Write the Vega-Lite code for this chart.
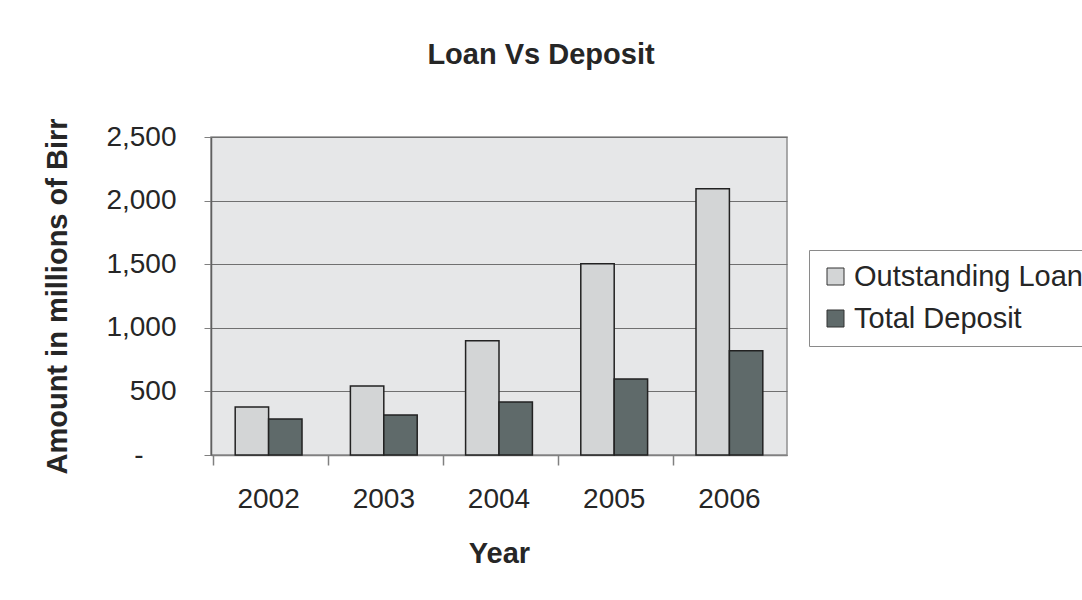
{
  "$schema": "https://vega.github.io/schema/vega-lite/v6.json",
  "width": 576,
  "height": 318,
  "autosize": {"type": "none"},
  "padding": {"left": 211, "top": 137, "right": 295, "bottom": 145},
  "background": "white",
  "title": {
    "text": "Loan Vs Deposit",
    "font": "Liberation Sans",
    "fontSize": 29,
    "fontWeight": "bold",
    "color": "#262626",
    "anchor": "middle",
    "dx": 42,
    "offset": 48
  },
  "data": {
    "values": [
      {"year": "2002", "series": "Outstanding Loan", "amount": 378},
      {"year": "2002", "series": "Total Deposit", "amount": 283},
      {"year": "2003", "series": "Outstanding Loan", "amount": 543},
      {"year": "2003", "series": "Total Deposit", "amount": 315},
      {"year": "2004", "series": "Outstanding Loan", "amount": 898},
      {"year": "2004", "series": "Total Deposit", "amount": 417},
      {"year": "2005", "series": "Outstanding Loan", "amount": 1504},
      {"year": "2005", "series": "Total Deposit", "amount": 598},
      {"year": "2006", "series": "Outstanding Loan", "amount": 2094},
      {"year": "2006", "series": "Total Deposit", "amount": 819}
    ]
  },
  "encoding": {
    "x": {
      "field": "year",
      "type": "nominal",
      "scale": {"paddingInner": 0.42, "paddingOuter": 0.21}
    },
    "xOffset": {"field": "series", "type": "nominal", "sort": ["Outstanding Loan", "Total Deposit"]},
    "y": {
      "field": "amount",
      "type": "quantitative",
      "scale": {"domain": [0, 2500], "nice": false},
      "axis": {
        "title": "Amount in millions of Birr",
        "values": [0, 500, 1000, 1500, 2000, 2500],
        "labelExpr": "datum.value == 0 ? '-' : format(datum.value, ',')",
        "labelFont": "Liberation Sans",
        "labelFontSize": 28,
        "labelColor": "#262626",
        "labelPadding": {"condition": {"test": "datum.value == 0", "value": 61}, "value": 28},
        "tickSize": 7,
        "tickColor": "#808080",
        "domainColor": "#606060",
        "domainWidth": 1.5,
        "grid": true,
        "gridColor": "#707070",
        "gridWidth": 1.2,
        "titleFont": "Liberation Sans",
        "titleFontSize": 29,
        "titleFontWeight": "bold",
        "titleColor": "#262626",
        "titleAngle": 270,
        "titleBaseline": "middle",
        "titleAlign": "center",
        "titleX": -154,
        "titleY": 159
      }
    }
  },
  "layer": [
    {
      "mark": {"type": "bar", "stroke": "#222222", "strokeWidth": 1.5},
      "encoding": {
        "x": {
          "field": "year",
          "type": "nominal",
          "axis": {
            "title": "Year",
            "orient": "bottom",
            "labelAngle": 0,
            "labelFont": "Liberation Sans",
            "labelFontSize": 28,
            "labelColor": "#262626",
            "labelPadding": 30,
            "ticks": false,
            "tickSize": 0,
            "domainColor": "#808080",
            "domainWidth": 1.5,
            "titleFont": "Liberation Sans",
            "titleFontSize": 29,
            "titleFontWeight": "bold",
            "titleColor": "#262626",
            "titlePadding": 26
          }
        },
        "color": {
          "field": "series",
          "type": "nominal",
          "sort": ["Outstanding Loan", "Total Deposit"],
          "scale": {"range": ["#d3d5d6", "#5f6a6a"]},
          "legend": {
            "title": null,
            "orient": "none",
            "legendX": 598,
            "legendY": 113,
            "symbolType": "square",
            "symbolSize": 289,
            "symbolStrokeColor": "#333333",
            "symbolStrokeWidth": 1,
            "labelFont": "Liberation Sans",
            "labelFontSize": 29,
            "labelColor": "#262626",
            "labelLimit": 400,
            "rowPadding": 12,
            "padding": 12,
            "strokeColor": "#8a8a8a",
            "fillColor": "white"
          }
        }
      }
    },
    {
      "mark": {"type": "bar", "opacity": 0},
      "encoding": {
        "x": {
          "field": "year",
          "type": "nominal",
          "axis": {
            "title": null,
            "orient": "bottom",
            "labels": false,
            "domain": false,
            "ticks": true,
            "tickSize": 10,
            "tickColor": "#808080",
            "tickWidth": 1.5,
            "bandPosition": -0.33
          }
        }
      }
    }
  ],
  "resolve": {"axis": {"x": "independent"}},
  "config": {
    "view": {"fill": "#e6e7e8", "stroke": "#909090", "strokeWidth": 1.5}
  }
}
